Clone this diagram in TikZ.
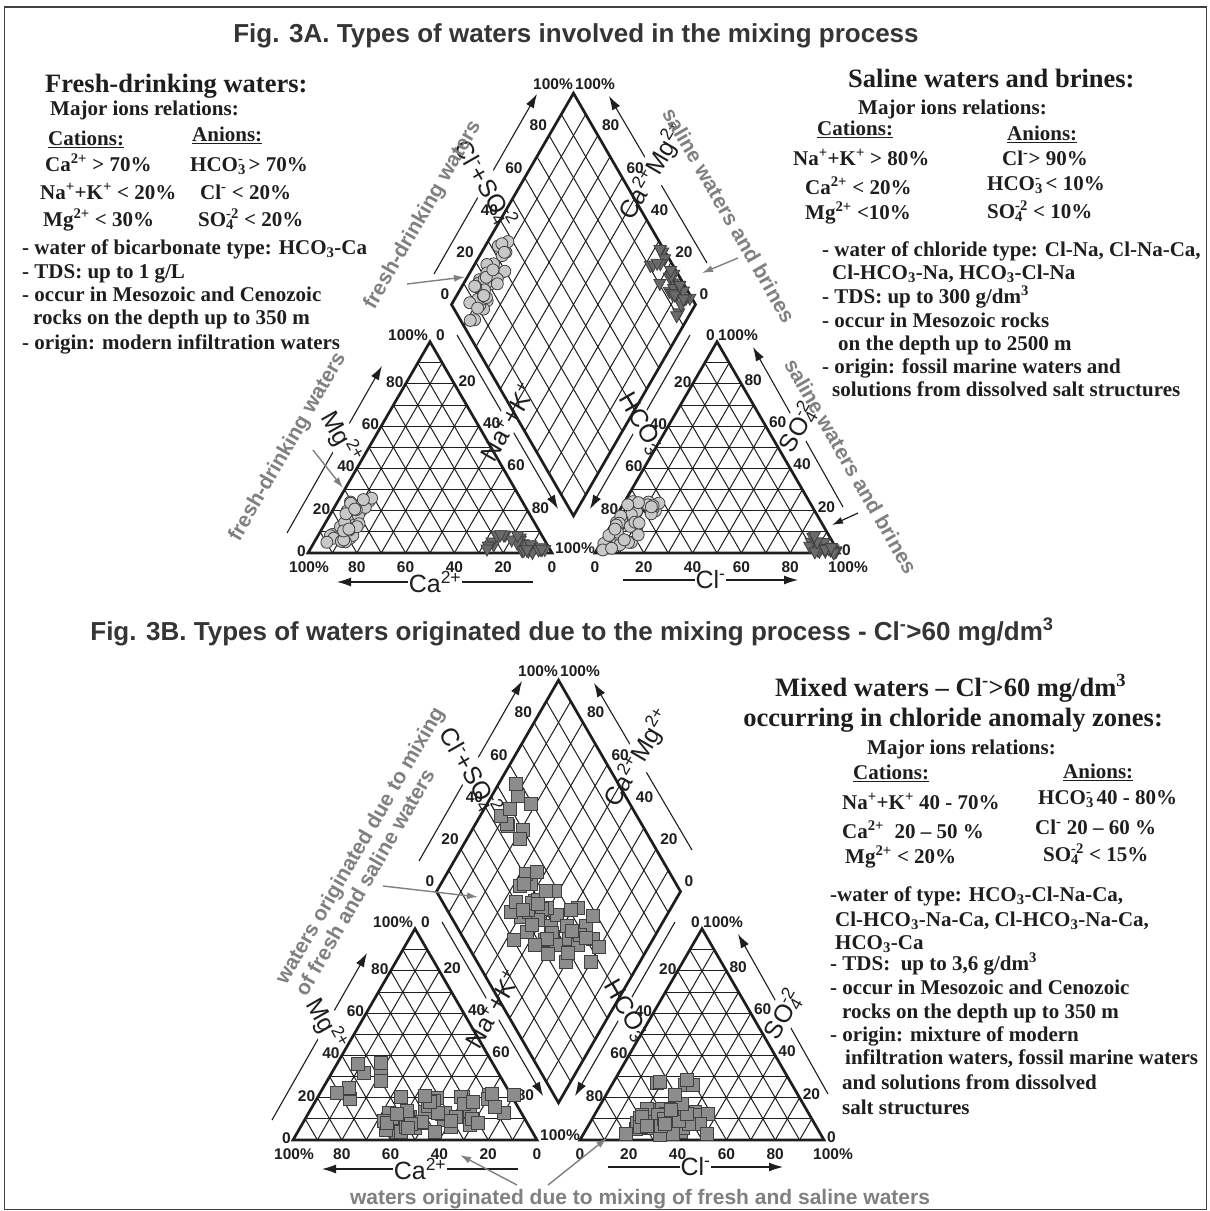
\documentclass[tikz,border=0pt]{standalone}
\usepackage{fontspec}
\setmainfont{Liberation Serif}
\newfontfamily\arialfont{Liberation Sans}
\usetikzlibrary{arrows.meta}

\definecolor{ink}{HTML}{1E1E1E}
\definecolor{note}{HTML}{808080}
\definecolor{freshfill}{HTML}{C8C8C8}
\definecolor{brinefill}{HTML}{6A6A6A}
\definecolor{mixfill}{HTML}{8C8C8C}

\tikzset{
  gridline/.style={draw=ink, line width=1pt},
  outline/.style={draw=ink, line width=2.7pt, line join=miter},
  tick/.style={font=\arialfont\bfseries\fontsize{15.5}{15.5}\selectfont, text=ink, inner sep=0pt},
  axis/.style={draw=ink, line width=1.1pt, -{Latex[length=14pt,width=9pt]}},
  axisname/.style={font=\arialfont\fontsize{25}{25}\selectfont, text=ink, fill=white, inner sep=1pt, sloped},
  freshmark/.style={draw=ink!85, fill=freshfill, line width=0.8pt},
  brinemark/.style={draw=ink!85, fill=brinefill, line width=0.8pt},
  mixmark/.style={draw=ink!85, fill=mixfill, line width=0.8pt}
}

% one sample in each field
\newcommand{\freshpt}[2]{\filldraw[freshmark] ({#1},{#2}) circle (6);}
\newcommand{\brinept}[2]{\filldraw[brinemark] ({(#1)-6},{(#2)+4}) -- ({(#1)+6},{(#2)+4}) -- ({#1},{(#2)-7}) -- cycle;}
\newcommand{\mixpt}[2]{\filldraw[mixmark] ({(#1)-6.5},{(#2)-6.5}) rectangle ({(#1)+6.5},{(#2)+6.5});}

% Piper frame: two triangles and the diamond, local units in px, y up
\newcommand{\piperframe}[1]{%
  \coordinate (#1mgS) at (-21,20);   \coordinate (#1mgE) at (74,187);
  \coordinate (#1caS) at (225,-29);  \coordinate (#1caE) at (29,-29);
  \coordinate (#1naS) at (149,218);  \coordinate (#1naE) at (250,44);
  \coordinate (#1hcS) at (382,218);  \coordinate (#1hcE) at (282,44);
  \coordinate (#1soS) at (535,46);   \coordinate (#1soE) at (445,206);
  \coordinate (#1clS) at (315,-27);  \coordinate (#1clE) at (490,-27);
  \coordinate (#1csS) at (126,279);  \coordinate (#1csE) at (229,459);
  \coordinate (#1cmS) at (399,290);  \coordinate (#1cmE) at (301,457);
  \draw[axis] (#1mgS) -- node[axisname, pos=0.57] (#1mg) {Mg\textsuperscript{2+}} (#1mgE);
  \draw[axis] (#1caS) -- node[axisname] (#1ca) {Ca\textsuperscript{2+}} (#1caE);
  \draw[axis] (#1naS) -- node[axisname] (#1na) {Na\textsuperscript{+}+K\textsuperscript{+}} (#1naE);
  \draw[axis] (#1hcS) -- node[axisname] (#1hc) {HCO\rlap{\textsubscript{3}}\textsuperscript{-}} (#1hcE);
  \draw[axis] (#1soS) -- node[axisname] (#1so) {SO\rlap{\textsubscript{4}}\textsuperscript{-2}} (#1soE);
  \draw[axis] (#1clS) -- node[axisname] (#1cl) {Cl\textsuperscript{-}} (#1clE);
  \draw[axis] (#1csS) -- node[axisname] (#1cs) {Cl\textsuperscript{-}+SO\rlap{\textsubscript{4}}\textsuperscript{-2}} (#1csE);
  \draw[axis] (#1cmS) -- node[axisname, pos=0.55] (#1cm) {Ca\textsuperscript{2+}Mg\textsuperscript{2+}} (#1cmE);
  % grid lines every 10 %
  \foreach \i in {1,...,9} {
    \draw[gridline] ({24.4*\i},0) -- ({24.4*\i+12.2*(10-\i)},{21.13*(10-\i)});
    \draw[gridline] ({24.4*\i},0) -- ({12.2*\i},{21.13*\i});
    \draw[gridline] ({12.2*\i},{21.13*\i}) -- ({244-12.2*\i},{21.13*\i});
    \draw[gridline] ({287+24.4*\i},0) -- ({287+24.4*\i+12.2*(10-\i)},{21.13*(10-\i)});
    \draw[gridline] ({287+24.4*\i},0) -- ({287+12.2*\i},{21.13*\i});
    \draw[gridline] ({287+12.2*\i},{21.13*\i}) -- ({531-12.2*\i},{21.13*\i});
    \draw[gridline] ({265.5+12.2*\i},{37.2+21.13*\i}) -- ({143.5+12.2*\i},{248.5+21.13*\i});
    \draw[gridline] ({265.5-12.2*\i},{37.2+21.13*\i}) -- ({387.5-12.2*\i},{248.5+21.13*\i});
  }
  \draw[outline] (0,0) -- (244,0) -- (122,211.3) -- cycle;
  \draw[outline] (287,0) -- (531,0) -- (409,211.3) -- cycle;
  \draw[outline] (265.5,37.2) -- (387.5,248.5) -- (265.5,459.8) -- (143.5,248.5) -- cycle;
  % scale numbers
  \foreach \i [evaluate=\i as \v using int(10*\i)] in {0,2,4,6,8} {
    \node[tick, anchor=east] (#1ml\i) at ({12.2*\i-2},{21.13*\i+2}) {\v};
    \node[tick, anchor=east] (#1dl\i) at ({141.5+12.2*\i},{258.5+21.13*\i}) {\v};
  }
  \foreach \i [evaluate=\i as \v using int(10*\i)] in {2,4,6,8} {
    \node[tick, anchor=west] (#1mr\i) at ({126+12.2*\i},{214.3-21.13*\i}) {\v};
    \node[tick, anchor=east] (#1rl\i) at ({408-12.2*\i},{213.3-21.13*\i}) {\v};
  }
  \foreach \i [evaluate=\i as \v using int(100-10*\i)] in {2,4,6,8} {
    \node[tick, anchor=west] (#1rr\i) at ({412+12.2*\i},{215.3-21.13*\i}) {\v};
  }
  \foreach \i [evaluate=\i as \v using int(100-10*\i)] in {2,4,6,8,10} {
    \node[tick, anchor=west] (#1dr\i) at ({269.5+12.2*\i},{469.8-21.13*\i}) {\v};
  }
  \foreach \i [evaluate=\i as \v using int(100-20*\i)] in {1,...,5} {
    \node[tick] (#1mb\i) at ({48.8*\i},-14) {\v};
  }
  \foreach \i [evaluate=\i as \v using int(20*\i)] in {0,...,4} {
    \node[tick] (#1rb\i) at ({287+48.8*\i},-14) {\v};
  }
  \node[tick] (#1mb0) at (1,-14) {100\%};
  \node[tick] (#1rb5) at (540,-14) {100\%};
  \node[tick, anchor=east] (#1mtl) at (120,218) {100\%};
  \node[tick, anchor=west] (#1mtr) at (128,218) {0};
  \node[tick, anchor=west] (#1mbr) at (247,5) {100\%};
  \node[tick, anchor=east] (#1rtl) at (407,218) {0};
  \node[tick, anchor=west] (#1rtr) at (410,218) {100\%};
  \node[tick, anchor=west] (#1rbr) at (534,3) {0};
  \node[tick, anchor=east] (#1dtl) at (265,469) {100\%};
  \node[tick, anchor=west] (#1dtr) at (267,469) {100\%};
}

\begin{document}
\begin{tikzpicture}[
    x=1pt, y=-1pt,
    figtitle/.style={font=\arialfont\bfseries\fontsize{26}{30}\selectfont, text=ink!90, anchor=base, inner sep=0pt},
    head/.style={font=\bfseries\fontsize{26.5}{30}\selectfont, text=ink, anchor=base west, inner sep=0pt},
    body/.style={font=\bfseries\fontsize{21}{24}\selectfont, text=ink, anchor=base west, inner sep=0pt},
    note/.style={font=\arialfont\bfseries\fontsize{21}{23}\selectfont, text=note, inner sep=0pt},
    notearrow/.style={draw=note, line width=1.4pt, -{Latex[length=11pt,width=7pt]}},
    inkarrow/.style={draw=ink, line width=1.2pt, -{Latex[length=11pt,width=7pt]}}
]
\useasboundingbox (0,0) rectangle (1210,1211);
\fill[white] (0,0) rectangle (1210,1211);
\draw[draw=ink!85, line width=1.4pt] (4.5,7) rectangle (1206.5,1209.5);

\node[figtitle] (titleA) at (576,42) {Fig. 3A. Types of waters involved in the mixing process};
\node[figtitle] (titleB) at (572,640) {Fig. 3B. Types of waters originated due to the mixing process - Cl\textsuperscript{-}>60 mg/dm\textsuperscript{3}};

% fresh waters, 3A left
\node[head] (freshhead) at (45,92) {Fresh-drinking waters:};
\node[body] (freshmaj) at (50,115) {Major ions relations:};
\node[body] (freshcat) at (48,145) {\underline{Cations:}};
\node[body] (freshan) at (192,141) {\underline{Anions:}};
\node[body] (freshca) at (45,171) {Ca\textsuperscript{2+} > 70\%};
\node[body] (freshna) at (40,199) {Na\textsuperscript{+}+K\textsuperscript{+} < 20\%};
\node[body] (freshmg) at (43,226) {Mg\textsuperscript{2+} < 30\%};
\node[body] (freshhc) at (190,171) {HCO\rlap{\textsubscript{3}}\textsuperscript{-} > 70\%};
\node[body] (freshcl) at (200,199) {Cl\textsuperscript{-} < 20\%};
\node[body] (freshso) at (198,226) {SO\rlap{\textsubscript{4}}\textsuperscript{-2} < 20\%};
\node[body] (fresht1) at (22,254) {- water of bicarbonate type: HCO\textsubscript{3}-Ca};
\node[body] (fresht2) at (22,278) {- TDS: up to 1 g/L};
\node[body] (fresht3) at (22,301) {- occur in Mesozoic and Cenozoic};
\node[body] (fresht4) at (33,324) {rocks on the depth up to 350 m};
\node[body] (fresht5) at (22,349) {- origin: modern infiltration waters};

% saline waters, 3A right
\node[head] (salhead) at (848,87) {Saline waters and brines:};
\node[body] (salmaj) at (858,114) {Major ions relations:};
\node[body] (salcat) at (817,135) {\underline{Cations:}};
\node[body] (salan) at (1007,140) {\underline{Anions:}};
\node[body] (salna) at (793,165) {Na\textsuperscript{+}+K\textsuperscript{+} > 80\%};
\node[body] (salca) at (805,194) {Ca\textsuperscript{2+} < 20\%};
\node[body] (salmg) at (805,219) {Mg\textsuperscript{2+} <10\%};
\node[body] (salcl) at (1002,165) {Cl\textsuperscript{-}> 90\%};
\node[body] (salhc) at (987,190) {HCO\rlap{\textsubscript{3}}\textsuperscript{-} < 10\%};
\node[body] (salso) at (987,218) {SO\rlap{\textsubscript{4}}\textsuperscript{-2} < 10\%};
\node[body] (salt1) at (822,256) {- water of chloride type: Cl-Na, Cl-Na-Ca,};
\node[body] (salt2) at (832,279) {Cl-HCO\textsubscript{3}-Na, HCO\textsubscript{3}-Cl-Na};
\node[body] (salt3) at (822,303) {- TDS: up to 300 g/dm\textsuperscript{3}};
\node[body] (salt4) at (822,327) {- occur in Mesozoic rocks};
\node[body] (salt5) at (838,350) {on the depth up to 2500 m};
\node[body] (salt6) at (822,373) {- origin: fossil marine waters and};
\node[body] (salt7) at (832,396) {solutions from dissolved salt structures};

% mixed waters, 3B right
\node[head] (mixhead) at (775,696) {Mixed waters – Cl\textsuperscript{-}>60 mg/dm\textsuperscript{3}};
\node[head, anchor=base east] (mixhead2) at (1163,726) {occurring in chloride anomaly zones:};
\node[body] (mixmaj) at (867,754) {Major ions relations:};
\node[body] (mixcat) at (853,779) {\underline{Cations:}};
\node[body] (mixan) at (1063,778) {\underline{Anions:}};
\node[body] (mixna) at (842,809) {Na\textsuperscript{+}+K\textsuperscript{+} 40 - 70\%};
\node[body] (mixca) at (842,838) {Ca\textsuperscript{2+}\ \ 20 – 50 \%};
\node[body] (mixmg) at (845,863) {Mg\textsuperscript{2+} < 20\%};
\node[body] (mixhc) at (1038,804) {HCO\rlap{\textsubscript{3}}\textsuperscript{-} 40 - 80\%};
\node[body] (mixcl) at (1035,834) {Cl\textsuperscript{-} 20 – 60 \%};
\node[body] (mixso) at (1043,861) {SO\rlap{\textsubscript{4}}\textsuperscript{-2} < 15\%};
\node[body] (mixt1) at (830,901) {-water of type: HCO\textsubscript{3}-Cl-Na-Ca,};
\node[body] (mixt2) at (835,926) {Cl-HCO\textsubscript{3}-Na-Ca, Cl-HCO\textsubscript{3}-Na-Ca,};
\node[body] (mixt3) at (835,949) {HCO\textsubscript{3}-Ca};
\node[body] (mixt4) at (830,970) {- TDS:\ \ up to 3,6 g/dm\textsuperscript{3}};
\node[body] (mixt5) at (830,994) {- occur in Mesozoic and Cenozoic};
\node[body] (mixt6) at (842,1018) {rocks on the depth up to 350 m};
\node[body] (mixt7) at (830,1041) {- origin: mixture of modern};
\node[body] (mixt8) at (845,1064) {infiltration waters, fossil marine waters};
\node[body] (mixt9) at (842,1089) {and solutions from dissolved};
\node[body] (mixt10) at (842,1114) {salt structures};

% Fig. 3A diagram
\begin{scope}[shift={(308,553)}, yscale=-1]
  \piperframe{a}
  % fresh-drinking waters
  \pgfmathsetseed{7}
  \foreach \k in {1,...,40} {
    \pgfmathsetmacro\na{0.05+0.10*rnd}
    \pgfmathsetmacro\mg{0.04+0.22*rnd}
    \pgfmathsetmacro\cl{0.01+0.14*rnd}
    \pgfmathsetmacro\so{0.01+0.24*rnd}
    \freshpt{244*\na+122*\mg}{211.3*\mg}
    \freshpt{287+244*\cl+122*\so}{211.3*\so}
    \freshpt{143.5+122*(\cl+\so+\na)}{248.5+211.3*(\cl+\so-\na)}
  }
  % saline waters and brines
  \pgfmathsetseed{3}
  \foreach \k in {1,...,30} {
    \pgfmathsetmacro\na{0.72+0.25*rnd}
    \pgfmathsetmacro\mg{(1-\na)*0.45*rnd}
    \pgfmathsetmacro\cl{0.85+0.14*rnd}
    \pgfmathsetmacro\so{(1-\cl)*0.6*rnd}
    \brinept{244*\na+122*\mg}{211.3*\mg}
    \brinept{287+244*\cl+122*\so}{211.3*\so}
    \brinept{143.5+122*(\cl+\so+\na)}{248.5+211.3*(\cl+\so-\na)}
  }
\end{scope}

\node[note, rotate=60] (freshD) at (423,215) {fresh-drinking waters};
\coordinate (freshDa) at (407,284);
\coordinate (freshDb) at (465,277);
\draw[notearrow] (freshDa) -- (freshDb);
\node[note, rotate=-60] (salD) at (729,215) {saline waters and brines};
\coordinate (salDa) at (738,258);
\coordinate (salDb) at (702,273);
\draw[notearrow] (salDa) -- (salDb);
\node[note, rotate=60] (freshL) at (288,447) {fresh-drinking waters};
\coordinate (freshLa) at (313,450);
\coordinate (freshLb) at (343,488);
\draw[notearrow] (freshLa) -- (freshLb);
\node[note, rotate=-60] (salR) at (851,466) {saline waters and brines};
\coordinate (salRa) at (858,513);
\coordinate (salRb) at (832,525);
\draw[inkarrow] (salRa) -- (salRb);

% Fig. 3B diagram
\begin{scope}[shift={(293,1140)}, yscale=-1]
  \piperframe{b}
  \pgfmathsetseed{21}
  \foreach \k in {1,...,52} {
    \pgfmathsetmacro\na{0.32+0.48*rnd}
    \pgfmathsetmacro\mg{0.03+0.19*rnd}
    \pgfmathsetmacro\cl{0.45*\na-0.04+0.2*rnd}
    \pgfmathsetmacro\so{0.02+0.14*rnd}
    \mixpt{244*\na+122*\mg}{211.3*\mg}
    \mixpt{287+244*\cl+122*\so}{211.3*\so}
    \mixpt{143.5+122*(\cl+\so+\na)}{248.5+211.3*(\cl+\so-\na)}
  }
  \foreach \k in {1,...,9} {
    \pgfmathsetmacro\na{0.05+0.17*rnd}
    \pgfmathsetmacro\mg{0.12+0.28*rnd}
    \pgfmathsetmacro\cl{0.15+0.2*rnd}
    \pgfmathsetmacro\so{0.12+0.18*rnd}
    \mixpt{244*\na+122*\mg}{211.3*\mg}
    \mixpt{287+244*\cl+122*\so}{211.3*\so}
    \mixpt{143.5+122*(\cl+\so+\na)}{248.5+211.3*(\cl+\so-\na)}
  }
\end{scope}

\node[note, rotate=60, align=left] (mixD) at (369,851) {waters originated due to mixing\\of fresh and saline waters};
\coordinate (mixDa) at (383,886);
\coordinate (mixDb) at (478,897);
\draw[notearrow] (mixDa) -- (mixDb);
\node[note, anchor=base] (mixB) at (640,1204) {waters originated due to mixing of fresh and saline waters};
\coordinate (mixBa) at (517,1185);
\coordinate (mixBb) at (460,1155);
\coordinate (mixBc) at (548,1185);
\coordinate (mixBd) at (607,1138);
\draw[notearrow] (mixBa) -- (mixBb);
\draw[notearrow] (mixBc) -- (mixBd);
\end{tikzpicture}
\end{document}
